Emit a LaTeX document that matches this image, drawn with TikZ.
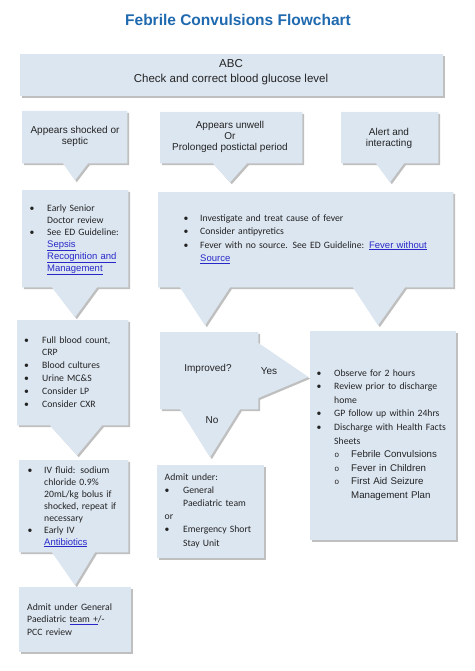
\documentclass[tikz,border=0pt]{standalone}
\usepackage{fontspec}
\setmainfont{Carlito}
\newfontfamily\arial{Liberation Sans}
\usetikzlibrary{shadows,calc}
\definecolor{boxfill}{RGB}{220,230,241}
\definecolor{titleblue}{RGB}{31,105,175}
\definecolor{linkblue}{RGB}{40,40,200}
\definecolor{txt}{RGB}{35,35,35}
\newcommand\lnk[1]{{\arial\fontsize{9.5}{12}\selectfont\color{linkblue}\underline{#1}}}
\newcommand\bl[2][16pt]{\noindent\hangindent=#1\hangafter=1\makebox[#1][l]{\textbullet}#2\par}
\newcommand\sbl[1]{\noindent\hangindent=34.5pt\hangafter=1\hskip18pt\makebox[16.5pt][l]{\arial\fontsize{8}{10}\selectfont o}{\arial #1}\par}
\tikzset{
  shp/.style={fill=boxfill, drop shadow={shadow xshift=1.8pt, shadow yshift=-1.8pt, fill=black!50, opacity=0.5}},
  box/.style={rectangle, inner sep=0pt, anchor=north west},
  lbl/.style={align=center, inner sep=0pt, text=txt, font=\arial\fontsize{10}{11}\selectfont},
  blist/.style={anchor=base west, inner sep=0pt, text=txt, align=left},
}
\begin{document}
\begin{tikzpicture}[x=1pt,y=-1pt]
\useasboundingbox (0,0) rectangle (474,671);
% box frames (named shapes)
\node[box, minimum width=423pt, minimum height=42pt] (babc) at (20,54) {};
\node[box, minimum width=105pt, minimum height=52pt] (b1) at (22,111) {};
\node[box, minimum width=142pt, minimum height=51pt] (b2) at (160,112) {};
\node[box, minimum width=97pt, minimum height=51pt] (b3) at (341,112) {};
\node[box, minimum width=106pt, minimum height=97pt] (b4) at (22,190) {};
\node[box, minimum width=295pt, minimum height=95pt] (b5) at (158,192) {};
\node[box, minimum width=111pt, minimum height=105pt] (b6) at (17,320) {};
\node[box, minimum width=98pt, minimum height=77pt] (b7) at (160,332) {};
\node[box, minimum width=146pt, minimum height=209pt] (b8) at (310,331) {};
\node[box, minimum width=109pt, minimum height=92pt] (b9) at (19,460) {};
\node[box, minimum width=107pt, minimum height=93pt] (b10) at (157,465) {};
\node[box, minimum width=112pt, minimum height=65pt] (b11) at (19,587) {};
% callout shapes
\fill[shp] (babc.north west) rectangle (babc.south east);
\fill[shp] (b1.north west) -- (b1.north east) -- (b1.south east) -- ($(b1.south west)+(66,0)$) -- ($(b1.south west)+(53,17)$) -- ($(b1.south west)+(41,0)$) -- (b1.south west) -- cycle;
\fill[shp] (b2.north west) -- (b2.north east) -- (b2.south east) -- ($(b2.south west)+(87,0)$) -- ($(b2.south west)+(70,19)$) -- ($(b2.south west)+(53,0)$) -- (b2.south west) -- cycle;
\fill[shp] (b3.north west) -- (b3.north east) -- (b3.south east) -- ($(b3.south west)+(63,0)$) -- ($(b3.south west)+(49,19)$) -- ($(b3.south west)+(35,0)$) -- (b3.south west) -- cycle;
\fill[shp] (b4.north west) -- (b4.north east) -- (b4.south east) -- ($(b4.south west)+(75,0)$) -- ($(b4.south west)+(53,30)$) -- ($(b4.south west)+(30,0)$) -- (b4.south west) -- cycle;
\fill[shp] (b5.north west) -- (b5.north east) -- (b5.south east) -- ($(b5.south west)+(247,0)$) -- ($(b5.south west)+(220,38)$) -- ($(b5.south west)+(195,0)$) -- ($(b5.south west)+(72,0)$) -- ($(b5.south west)+(47,38)$) -- ($(b5.south west)+(22,0)$) -- (b5.south west) -- cycle;
\fill[shp] (b6.north west) -- (b6.north east) -- (b6.south east) -- ($(b6.south west)+(85,0)$) -- ($(b6.south west)+(60,30)$) -- ($(b6.south west)+(33,0)$) -- (b6.south west) -- cycle;
\fill[shp] (b7.north west) -- (b7.north east) -- ($(b7.north east)+(0,11)$) -- ($(b7.north east)+(50,45)$) -- ($(b7.north east)+(0,66)$) -- (b7.south east) -- ($(b7.south west)+(80,0)$) -- ($(b7.south west)+(50,48)$) -- ($(b7.south west)+(20,0)$) -- (b7.south west) -- cycle;
\fill[shp] (b8.north west) rectangle (b8.south east);
\fill[shp] (b9.north west) -- (b9.north east) -- (b9.south east) -- ($(b9.south west)+(76,0)$) -- ($(b9.south west)+(56,33)$) -- ($(b9.south west)+(33,0)$) -- (b9.south west) -- cycle;
\fill[shp] (b10.north west) rectangle (b10.south east);
\fill[shp] (b11.north west) rectangle (b11.south east);
% texts
\node[inner sep=0pt, text=titleblue, font=\arial\bfseries\fontsize{15.5}{18}\selectfont] (title) at (238,20) {Febrile Convulsions Flowchart};
\node[lbl, font=\arial\fontsize{11.5}{15}\selectfont] (tabc) at (231,72) {ABC\\Check and correct blood glucose level};
\node[lbl] (t1) at (75,136) {Appears shocked or\\septic};
\node[lbl] (t2) at (230,137) {Appears unwell\\Or\\Prolonged postictal period};
\node[lbl] (t3) at (389,138) {Alert and\\interacting};
\node[lbl] (t7) at (208,369) {Improved?};
\node[lbl] (tyes) at (269,371) {Yes};
\node[lbl] (tno) at (212,420) {No};
\node[blist, text width=96pt, font=\fontsize{9.7}{12}\selectfont] (t4) at (29.5,211) {%
\bl[17.5pt]{Early Senior\newline Doctor review}%
\bl[17.5pt]{See ED Guideline:\newline \lnk{Sepsis}\newline \lnk{Recognition and}\newline \lnk{Management}}};
\node[blist, text width=266pt, font=\fontsize{9.7}{13.5}\selectfont] (t5) at (183.5,221) {%
\bl[16.5pt]{Investigate and treat cause of fever}%
\bl[16.5pt]{Consider antipyretics}%
\bl[16.5pt]{Fever with no source. See ED Guideline: \lnk{Fever without}\newline \lnk{Source}}};
\node[blist, text width=102pt, font=\fontsize{9.7}{12.8}\selectfont] (t6) at (24,343) {%
\bl[18pt]{Full blood count,\newline CRP}%
\bl[18pt]{Blood cultures}%
\bl[18pt]{Urine MC\&S}%
\bl[18pt]{Consider LP}%
\bl[18pt]{Consider CXR}};
\node[blist, text width=138pt, font=\fontsize{9.7}{13.6}\selectfont] (t8) at (316.5,376) {%
\bl[17.5pt]{Observe for 2 hours}%
\bl[17.5pt]{Review prior to discharge\newline home}%
\bl[17.5pt]{GP follow up within 24hrs}%
\bl[17.5pt]{Discharge with Health Facts\newline Sheets}%
\sbl{Febrile Convulsions}%
\sbl{Fever in Children}%
\sbl{First Aid Seizure\newline Management Plan}};
\node[blist, text width=98pt, font=\fontsize{9.7}{12}\selectfont] (t9) at (27.5,473) {%
\bl[16.5pt]{IV fluid: sodium\newline chloride 0.9\%\newline 20mL/kg bolus if\newline shocked, repeat if\newline necessary}%
\bl[16.5pt]{Early IV\newline \lnk{Antibiotics}}};
\node[blist, text width=98pt, font=\fontsize{9.7}{13.2}\selectfont] (t10) at (164.5,480) {%
\noindent Admit under:\par
\bl[18.5pt]{General\newline Paediatric team}%
\noindent or\par
\bl[18.5pt]{Emergency Short\newline Stay Unit}};
\node[blist, text width=102pt, font=\fontsize{9.7}{12.5}\selectfont] (t11) at (27,610) {%
\noindent Admit under General\newline Paediatric {\color{linkblue}\underline{\color{txt}team +}}/-\newline PCC review};
\end{tikzpicture}
\end{document}
